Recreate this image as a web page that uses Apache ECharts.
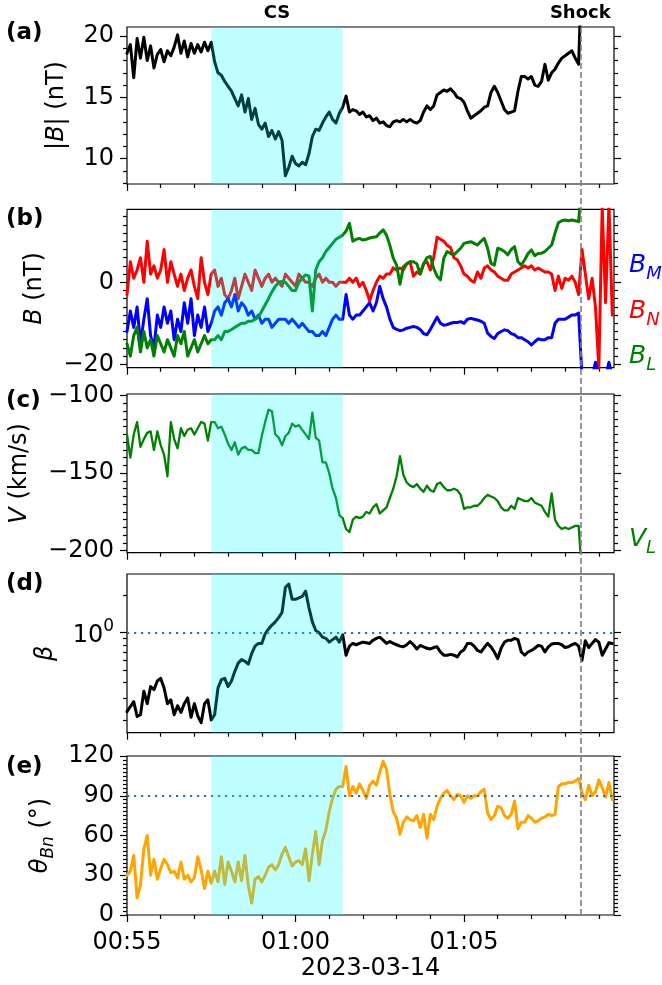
<!DOCTYPE html>
<html><head><meta charset="utf-8">
<script src="https://cdn.jsdelivr.net/npm/echarts@6/dist/echarts.min.js"></script>
<style>html,body{margin:0;padding:0;background:#fff}#c{width:662px;height:985px}</style>
</head><body><div id="c"></div>
<script>
// time, seconds after 2023-03-14 00:55:00
const timeSec = [0,6,12,18,24,30,36,42,48,54,
60,66,72,78,84,90,96,102,108,114,
120,126,132,138,144,150,156,162,168,174,
180,186,192,198,204,210,216,222,228,234,
240,246,252,258,264,270,276,282,288,294,
300,306,312,318,324,330,336,342,348,354,
360,366,372,378,384,390,396,402,408,414,
420,426,432,438,444,450,456,462,468,474,
480,486,492,498,504,510,516,522,528,534,
540,546,552,558,564,570,576,582,588,594,
600,606,612,618,624,630,636,642,648,654,
660,666,672,678,684,690,696,702,708,714,
720,726,732,738,744,750,756,762,768,774,
780,786,792,798,804,810,816,822,828,834,
840,846,852,858,864];

const bMag = [18.6,19.3,16.6,19.8,18.2,19.9,18.0,19.2,17.4,18.5,
18.9,17.9,18.8,18.4,19.1,20.1,18.6,19.6,18.3,19.4,
18.6,19.3,18.7,19.5,18.8,19.5,17.9,17.0,16.8,16.3,
15.9,15.5,14.9,14.3,15.2,13.8,14.9,13.2,14.1,12.8,
12.4,12.9,11.8,12.3,11.6,12.2,11.5,8.6,9.3,10.2,
9.6,9.4,9.7,9.5,10.4,11.8,12.4,12.3,12.9,13.4,
13.8,13.2,12.9,13.7,14.2,15.1,13.8,14.0,13.9,13.6,
13.8,13.4,13.5,13.1,13.3,12.9,13.0,12.7,12.6,13.0,
13.1,13.0,13.2,13.0,13.2,13.0,12.9,13.1,13.8,14.3,
14.0,14.3,15.2,15.4,15.6,15.5,15.7,15.4,15.0,14.9,
14.6,13.9,13.3,13.5,13.7,13.9,14.2,14.3,15.4,15.9,
15.4,14.7,14.0,13.7,13.8,13.9,15.5,16.7,16.7,16.5,
16.7,16.0,15.9,16.3,17.7,16.4,17.0,17.3,17.8,18.2,
18.4,18.6,18.8,18.2,17.7,26,24,27,25,28,
26,27,25,26,27];

const bN = [-3,5,1,3,6,0,10,2,4,1,
3,8,0,5,2,-1,2,-2,1,3,
-1,-4,6,0,-3,2,3,-1,1,-3,
-4,-2,1,-4,-1,2,0,-2,3,1,
-1,1,2,0,1,0,-1,2,1,0,
-1,2,1,0,0,-1,1,2,0,1,
0,0,-1,0,0,0,1,0,1,-1,
0,-2,-4.5,-2,0,1.5,1,2,2,3.5,
3,3.5,3,4.5,5,1.5,2.5,2,4.5,5,
3,6,11,10.5,10,9,8.5,6,5.5,4,
2,1.5,0.5,0,2.5,1,3.5,4,3,2.5,
1.5,1,0.5,0.5,2,2.5,3,3.5,4,3.5,
4,3,3.5,3,2.5,2.5,2,-2,1.5,-1.5,
1,0.5,1.5,0,-3,8,2,-4,1,-6,
-21,18.5,-5,19,-8];

const bM = [-12,-7,-11,-6,-15,-9,-4,-13,-16,-8,
-11,-6,-10,-7,-14,-9,-12,-5,-10,-4,
-13,-8,-11,-6,-12,-10,-7,-6,-8,-5,
-4,-6,-3,-7,-5,-6,-8,-7,-9,-8,
-10,-9,-9,-11,-10,-9,-9,-9,-10,-9,
-10,-11,-10,-11,-12,-12,-13,-13,-12,-13,
-11,-9,-8,-9,-9,-3,-8,-9,-8,-8,
-7,-6,-5,-7,-5,-1,-4,-6,-9,-11,
-11.5,-11.8,-11.6,-11.2,-11,-10.8,-11,-11.5,-12.5,-12.8,
-11.5,-10,-8.5,-10,-10.5,-10.3,-10,-9.8,-9.8,-9.6,
-10,-9,-8.8,-9,-9.2,-9.5,-10,-12.4,-13.2,-13.7,
-12.5,-12,-11.6,-11.8,-12.5,-12.8,-13.5,-13.5,-14,-14.5,
-15.3,-14.5,-13.8,-14,-14,-13.5,-13.5,-10,-9,-9,
-9,-8.5,-8,-8,-7.5,-23,-23,-23,-23,-19.5,
-23,-23,-23,-19.5,-23];

const bL = [-15,-18,-13,-11,-17,-12,-16,-14,-18,-13,
-15,-17,-14,-16,-18,-13,-15,-12,-18,-16,
-14,-17,-15,-13,-15,-14,-14,-13,-14,-12,
-12,-11.5,-11,-10.5,-10,-10,-9.5,-9.5,-9,-8.5,
-7,-5.5,-4,-2.3,-1,0,0.2,0,-1,-2,
-2,0,1,1.8,1.5,-7,3,5,6,7.5,
8.5,9.5,10.5,11,11.5,12.5,14.4,10,10.5,10.7,
10.3,10.5,10.8,11,11.1,12,12.8,11.5,9,5.9,
4.2,-0.5,3.8,4.5,5,5,4.5,2,4.5,6,
6.3,3.4,1.5,0.6,5.9,7.5,7,6.7,7.5,8.3,
9.5,9.7,9.9,9.5,9.1,10,10.7,8.3,4.6,4.2,
8.3,8,7.5,6.7,8,8.7,5,4.2,5.5,7,
7.9,6.5,7,7.1,7.5,8.3,9.1,12,14.5,15,
15.2,15,15.2,15,14.8,25,25,25,25,25,
25,25,25,25,25];

const vL = [-125,-140,-125,-117,-133,-128,-124,-123,-135,-123,
-132,-138,-152,-117,-128,-134,-121,-126,-122,-121,
-125,-121,-117,-118,-129,-117,-117,-121,-120,-125,
-131,-135,-130,-138,-134,-133,-135,-135,-137,-137,
-126,-117,-109,-110,-125,-127,-132,-126,-124,-118,
-120,-119,-122,-125,-128,-111,-127,-129,-143,-143,
-150,-160,-166,-177,-179,-186,-188,-180,-178,-179,
-178,-175,-176,-172,-170,-176,-174,-172,-166,-160,
-152,-139,-151,-156,-158,-159,-157,-160,-162,-158,
-161,-162,-157,-156,-159,-161,-161,-160,-161,-164,
-173,-172,-172,-171,-171,-169,-166,-164,-165,-166,
-168,-172,-174,-174,-171,-173,-166,-167,-168,-168,
-166,-169,-170,-171,-175,-178,-163,-180,-184,-186,
-185,-186,-185,-184,-184,-215,null,null,null,null,
null,null,null,null,null];

const beta = [0.233,0.256,0.28,0.213,0.22,0.34,0.27,0.37,0.35,0.41,
0.43,0.36,0.27,0.29,0.22,0.26,0.23,0.27,0.30,0.21,
0.27,0.215,0.19,0.27,0.29,0.20,0.22,0.36,0.42,0.43,
0.37,0.41,0.49,0.57,0.61,0.59,0.56,0.68,0.78,0.82,
0.82,0.98,1.07,1.15,1.22,1.32,1.45,2.3,2.45,1.85,
1.85,1.9,1.95,2.15,1.58,1.22,1.04,1.0,0.92,0.9,
0.84,0.88,0.92,0.84,0.96,0.66,0.78,0.82,0.80,0.82,
0.84,0.83,0.82,0.87,0.90,0.92,0.87,0.82,0.85,0.82,
0.80,0.78,0.77,0.80,0.85,0.80,0.74,0.79,0.77,0.75,
0.74,0.76,0.77,0.70,0.66,0.66,0.67,0.66,0.64,0.70,
0.73,0.82,0.82,0.78,0.72,0.70,0.76,0.82,0.77,0.70,
0.62,0.75,0.84,0.87,0.87,0.90,0.88,0.70,0.66,0.70,
0.72,0.75,0.79,0.78,0.70,0.77,0.81,0.82,0.82,0.80,
0.76,0.77,0.80,0.82,0.78,0.60,0.86,0.76,0.82,0.88,
0.84,0.66,0.74,0.83,0.82];

const thetaBn = [30,33,45,13,23,50,60,30,42,27,
35,42,38,32,33,28,40,27,30,25,
28,44,34,20,33,24,33,25,44,23,
40,33,25,40,26,45,22,9,27,29,
25,30,36,38,34,38,46,51,44,37,
40,41,38,50,26,46,63,38,56,64,
78,88,95,97,97,112,90,97,92,99,
94,88,98,101,98,108,116,110,91,78,
73,61,70,74,72,71,75,66,76,58,
76,72,82,88,92,94,90,87,91,90,
85,90,88,90,90,93,95,77,72,75,
82,81,75,73,76,86,65,70,70,75,
73,70,71,73,74,76,75,76,97,99,
99,100,100,101,103,92,87,98,90,93,
102,96,89,100,87];

const csStartSec = 150, csEndSec = 384, shockSec = 807, xMaxSec = 867;
const xMajorSec = [0, 300, 600];
const xTickLabels = ['00:55', '01:00', '01:05'];
const xMinorSec = [60,120,180,240,360,420,480,540,660,720,780,840];
const dateLabel = '2023-03-14';

const panelLabels = ['(a)', '(b)', '(c)', '(d)', '(e)'];

const yA = {min: 7.93, max: 20.74, major: [10,15,20], minor: [8,9,11,12,13,14,16,17,18,19]};
const yB = {min: -20.83, max: 17.8, major: [-20,0], minor: [-18,-16,-14,-12,-10,-8,-6,-4,-2,2,4,6,8,10,12,14,16]};
const yC = {min: -201.3, max: -98.9, major: [-200,-150,-100], minor: [-195,-190,-185,-180,-175,-170,-165,-160,-155,-145,-140,-135,-130,-125,-120,-115,-110,-105]};
const yD = {min: 0.158, max: 2.95, major: [1], minor: [0.2,0.3,0.4,0.5,0.6,0.7,0.8,0.9,2]};
const yE = {min: 0, max: 120, major: [0,30,60,90,120], minor: [3,6,9,12,15,18,21,24,27,33,36,39,42,45,48,51,54,57,63,66,69,72,75,78,81,84,87,93,96,99,102,105,108,111,114,117]};

const FONT = 'DejaVu Sans';
const FS = 24;
const grids = [
  {left:127, right:48, top:27, height:157},
  {left:127, right:48, top:209.3, height:158.4},
  {left:127, right:48, top:394, height:158.7},
  {left:127, right:48, top:574, height:158.7},
  {left:127, right:48, top:756, height:159},
  {left:127, right:48, top:27, height:888}
].map(g => Object.assign({show:true, borderColor:'#000', borderWidth:1.2, backgroundColor:'transparent'}, g));
grids[5].show = false;

const tickStyle = {color:'#000', width:1.2};
const xAxes = [];
for (let i = 0; i < 5; i++) {
  const last = i === 4;
  const base = {type:'value', gridIndex:i, min:0, max:xMaxSec, position:'bottom', splitLine:{show:false}, axisLine:{show:false, onZero:false}};
  xAxes.push(Object.assign({}, base, {
    axisTick:{show:true, customValues:xMajorSec, length:7, lineStyle:tickStyle},
    axisLabel:{show:last, customValues:xMajorSec, formatter:v => xTickLabels[xMajorSec.indexOf(Math.round(v))], fontSize:FS, fontFamily:FONT, color:'#000', margin:16},
    name: last ? dateLabel : '', nameLocation:'middle', nameGap:42,
    nameTextStyle:{fontSize:FS, fontFamily:FONT, color:'#000'}
  }));
  xAxes.push(Object.assign({}, base, {
    axisTick:{show:true, customValues:xMinorSec, length:4, lineStyle:tickStyle},
    axisLabel:{show:false}
  }));
}
xAxes.push({type:'value', gridIndex:5, min:0, max:xMaxSec, show:false});

const minusFmt = v => String(v).replace('-', '\u2212');
const nameRich = {
  i:{fontSize:FS, fontStyle:'italic', fontFamily:FONT, color:'#000', lineHeight:34, verticalAlign:'middle'},
  r:{fontSize:FS, fontFamily:FONT, color:'#000', lineHeight:34, verticalAlign:'middle'},
  s:{fontSize:17, fontStyle:'italic', fontFamily:FONT, color:'#000', lineHeight:17, verticalAlign:'bottom'}
};
function yAxesFor(i, cfg, name, nameGap, type, fmt, rich) {
  const base = {type:type||'value', gridIndex:i, min:cfg.min, max:cfg.max, splitLine:{show:false}, axisLine:{show:false, onZero:false}};
  if (type === 'log') base.logBase = 10;
  return [
    Object.assign({}, base, {position:'left',
      axisTick:{show:true, customValues:cfg.major, length:7, lineStyle:tickStyle},
      axisLabel:{show:true, customValues:cfg.major, formatter:fmt || minusFmt, fontSize:FS, fontFamily:FONT, color:'#000', margin:13, rich:rich},
      name:name, nameLocation:'middle', nameGap:nameGap, nameRotate:90,
      nameTextStyle:{fontSize:FS, fontFamily:FONT, color:'#000', rich:nameRich}}),
    Object.assign({}, base, {position:'left', axisTick:{show:true, customValues:cfg.minor, length:4, lineStyle:tickStyle}, axisLabel:{show:false}}),
    Object.assign({}, base, {position:'right', axisTick:{show:true, customValues:cfg.major, length:7, lineStyle:tickStyle}, axisLabel:{show:false}}),
    Object.assign({}, base, {position:'right', axisTick:{show:true, customValues:cfg.minor, length:4, lineStyle:tickStyle}, axisLabel:{show:false}})
  ];
}
const logFmt = v => (Math.abs(v - 1) < 1e-6 ? '{n|10}{p|0}' : '');
const logRich = {
  n:{fontSize:FS, fontFamily:FONT, color:'#000', lineHeight:30, verticalAlign:'bottom'},
  p:{fontSize:17, fontFamily:FONT, color:'#000', lineHeight:17, verticalAlign:'top'}
};
const yAxes = [].concat(
  yAxesFor(0, yA, '{r||}{i|B}{r|| (nT)}', 53),
  yAxesFor(1, yB, '{i|B}{r| (nT)}', 75),
  yAxesFor(2, yC, '{i|V}{r| (km/s)}', 90),
  yAxesFor(3, yD, '{i|\u03b2}', 64, 'log', logFmt, logRich),
  yAxesFor(4, yE, '{i|\u03b8}{s|Bn}{r| (\u00b0)}', 67),
  [{type:'value', gridIndex:5, min:0, max:1, show:false}]
);

function line(xi, yi, vals, color, width, z) {
  return {type:'line', xAxisIndex:xi, yAxisIndex:yi, data: timeSec.map((t, k) => [t, vals[k]]),
    showSymbol:false, symbol:'none', connectNulls:false, clip:true, animation:false, z: z || 2,
    lineStyle:{color:color, width:width, join:'round', cap:'round'}, itemStyle:{color:color}};
}
function band(xi, yi) {
  return {type:'line', xAxisIndex:xi, yAxisIndex:yi, data:[], z:10, silent:true, animation:false,
    markArea:{z:10, silent:true, animation:false, itemStyle:{color:'rgba(0,255,255,0.25)'}, data:[[{xAxis:csStartSec},{xAxis:csEndSec}]]}};
}
const dotted = {color:'#1f77b4', width:2.2, type:[2.2,4.8]};

const series = [
  line(0, 0, bMag, '#000000', 3),
  band(0, 0),
  line(2, 4, bN, '#ff0000', 3),
  line(2, 4, bM, '#0000ff', 3),
  line(2, 4, bL, '#008000', 3),
  band(2, 4),
  line(4, 8, vL, '#008000', 2.3),
  band(4, 8),
  Object.assign(line(6, 12, beta, '#000000', 3), {markLine:{silent:true, symbol:'none', animation:false, label:{show:false}, lineStyle:dotted, data:[{yAxis:1}]}}),
  band(6, 12),
  Object.assign(line(8, 16, thetaBn, '#ffa500', 3), {markLine:{silent:true, symbol:'none', animation:false, label:{show:false}, lineStyle:dotted, data:[{yAxis:90}]}}),
  band(8, 16),
  {type:'line', xAxisIndex:10, yAxisIndex:20, data:[], z:12, silent:true, animation:false,
    markLine:{z:12, silent:true, symbol:'none', animation:false,
      lineStyle:{color:'#808080', width:1.6, type:[6,3]},
      label:{show:true, position:'end', formatter:'Shock', fontWeight:'bold', fontSize:18, fontFamily:FONT, color:'#000', distance:5},
      data:[{xAxis:shockSec}]},
    markArea:{silent:true, animation:false, itemStyle:{color:'rgba(0,0,0,0)'},
      label:{show:true, position:'top', formatter:'CS', fontWeight:'bold', fontSize:18, fontFamily:FONT, color:'#000', distance:5},
      data:[[{xAxis:csStartSec},{xAxis:csEndSec}]]}}
];

const labelTops = [22, 208, 390, 573, 756];
const graphic = panelLabels.map((t, i) => ({type:'text', left:6, top:labelTops[i], silent:true,
  style:{text:t, font:'bold 23px "DejaVu Sans"', fill:'#000'}}));
function compLabel(main, sub, color, top) {
  return {type:'text', left:629, top:top, silent:true, style:{text:'{i|' + main + '}{s|' + sub + '}', fill:color,
    rich:{i:{fontSize:25, fontStyle:'italic', fontFamily:FONT, fill:color, lineHeight:36, verticalAlign:'middle'},
          s:{fontSize:18, fontStyle:'italic', fontFamily:FONT, fill:color, lineHeight:18, verticalAlign:'bottom'}}}};
}
graphic.push(compLabel('B', 'M', '#0000ff', 253));
graphic.push(compLabel('B', 'N', '#ff0000', 299));
graphic.push(compLabel('B', 'L', '#008000', 344));
graphic.push(compLabel('V', 'L', '#008000', 527));

const chart = echarts.init(document.getElementById('c'), null, {renderer:'canvas'});
chart.setOption({animation:false, backgroundColor:'#fff', grid:grids, xAxis:xAxes, yAxis:yAxes, series:series, graphic:graphic});
</script></body></html>
